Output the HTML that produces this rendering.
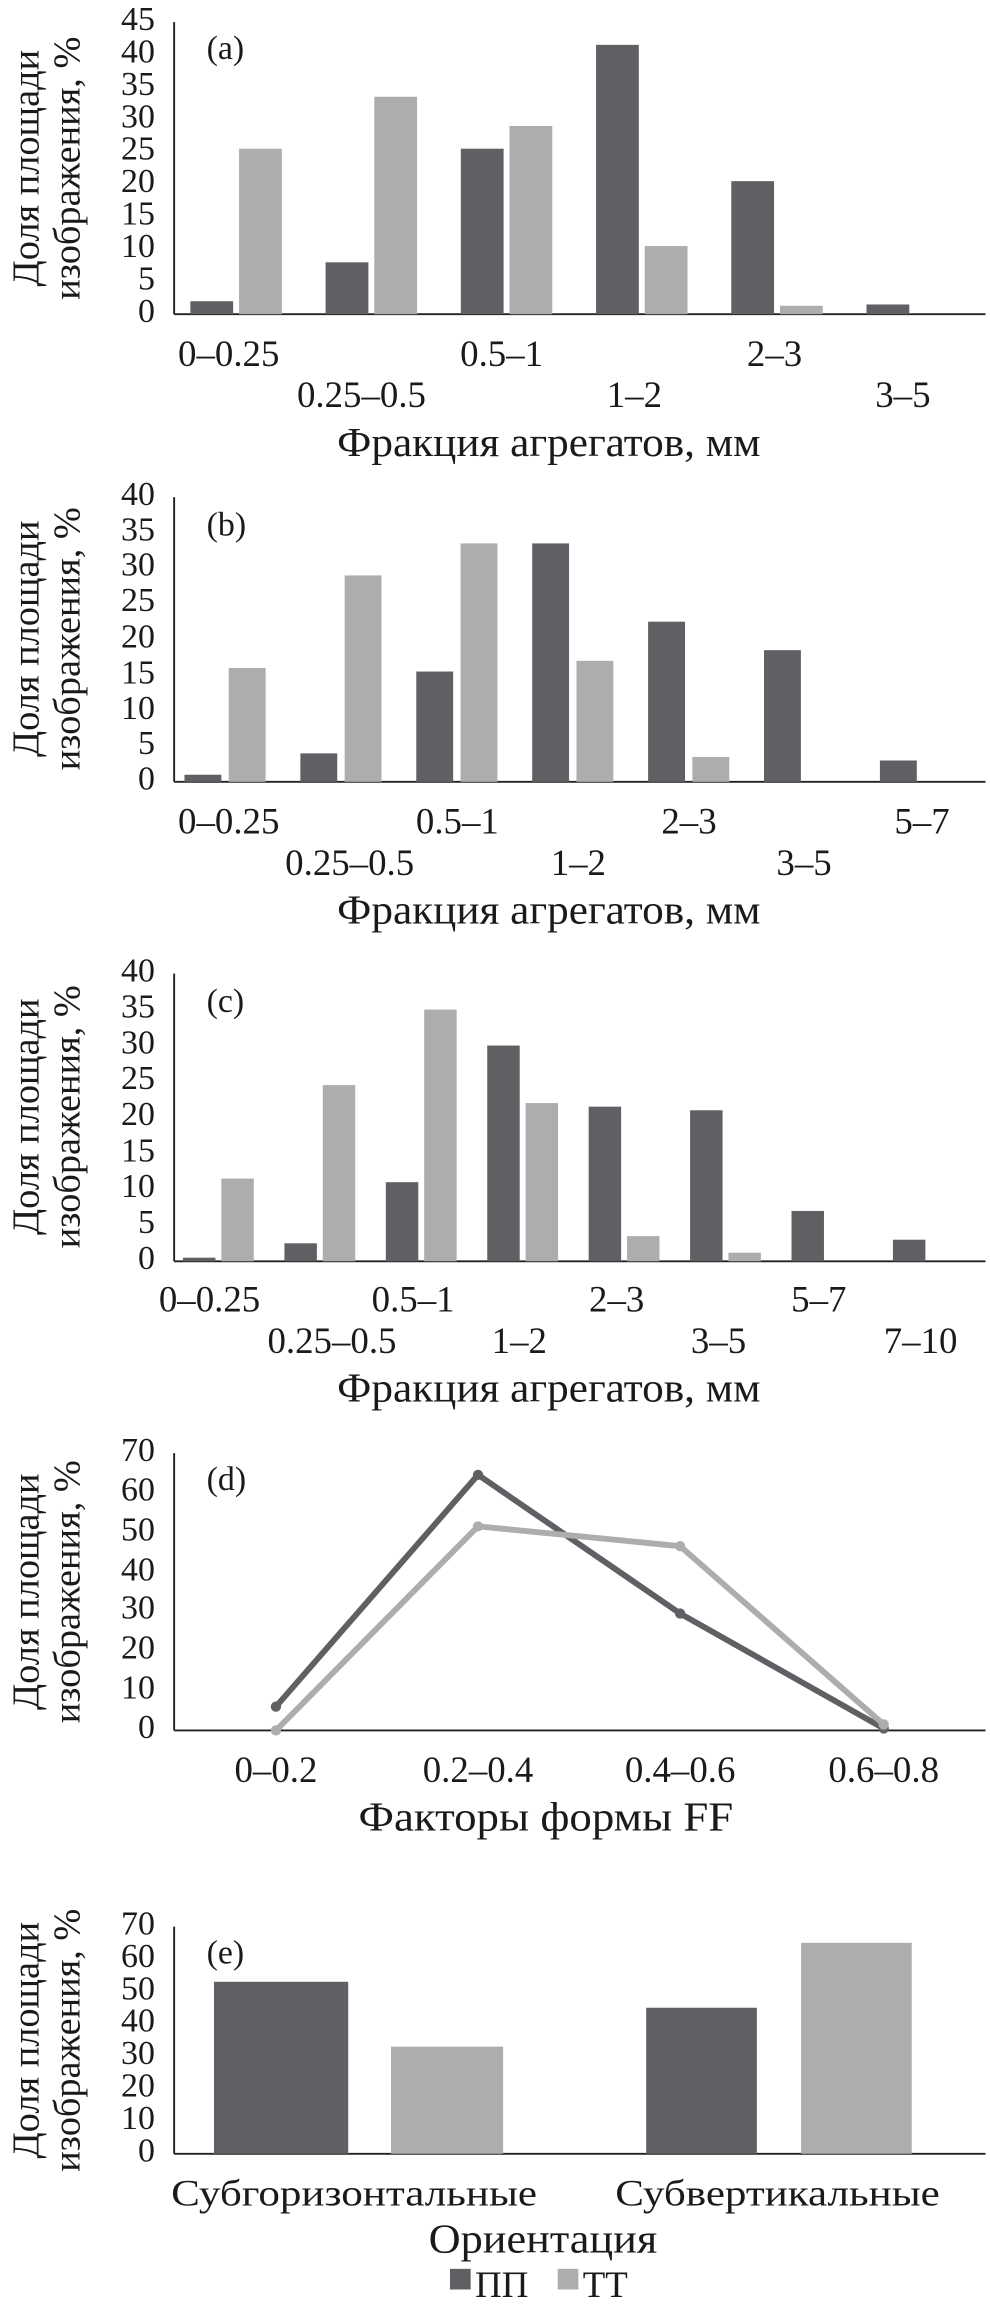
<!DOCTYPE html>
<html><head><meta charset="utf-8"><style>
html,body{margin:0;padding:0;background:#fff;}
svg{display:block;}
text{font-family:"Liberation Serif","DejaVu Serif",serif;fill:#1a1a1a;}
.t{font-size:23px;}
.xt{font-size:25px;}
.ax{font-size:28px;}
.yl{font-size:26px;}
</style></head><body>
<svg id="s" width="990" height="2319" viewBox="0 0 671 1572" xmlns="http://www.w3.org/2000/svg">
<g id="g"></g>
<g class="t" text-anchor="end" dominant-baseline="middle">
<text x="105" y="213">0</text><text x="105" y="191">5</text><text x="105" y="169">10</text><text x="105" y="147">15</text><text x="105" y="125">20</text><text x="105" y="103">25</text><text x="105" y="81">30</text><text x="105" y="59">35</text><text x="105" y="37">40</text><text x="105" y="15">45</text>
<text x="105" y="530">0</text><text x="105" y="506">5</text><text x="105" y="482">10</text><text x="105" y="458">15</text><text x="105" y="433.5">20</text><text x="105" y="409">25</text><text x="105" y="385">30</text><text x="105" y="361">35</text><text x="105" y="337">40</text>
<text x="105" y="855">0</text><text x="105" y="830.6">5</text><text x="105" y="806">10</text><text x="105" y="782">15</text><text x="105" y="757.5">20</text><text x="105" y="733">25</text><text x="105" y="709">30</text><text x="105" y="684.4">35</text><text x="105" y="660">40</text>
<text x="105" y="1173">0</text><text x="105" y="1146">10</text><text x="105" y="1119">20</text><text x="105" y="1092">30</text><text x="105" y="1066">40</text><text x="105" y="1039">50</text><text x="105" y="1012">60</text><text x="105" y="985">70</text>
<text x="105" y="1460">0</text><text x="105" y="1438">10</text><text x="105" y="1416">20</text><text x="105" y="1394">30</text><text x="105" y="1372">40</text><text x="105" y="1350">50</text><text x="105" y="1328">60</text><text x="105" y="1306">70</text>
</g>
<g class="t"><text x="140" y="40">(a)</text><text x="140" y="363">(b)</text><text x="140" y="686">(c)</text><text x="140" y="1010">(d)</text><text x="140" y="1331">(e)</text></g>
<g class="xt" text-anchor="middle">
<text x="155" y="248">0–0.25</text><text x="245" y="276">0.25–0.5</text><text x="340" y="248">0.5–1</text><text x="430" y="276">1–2</text><text x="525" y="248">2–3</text><text x="612" y="276">3–5</text>
<text x="155" y="565">0–0.25</text><text x="237" y="593">0.25–0.5</text><text x="310" y="565">0.5–1</text><text x="392" y="593">1–2</text><text x="467" y="565">2–3</text><text x="545" y="593">3–5</text><text x="625" y="565">5–7</text>
<text x="142" y="889">0–0.25</text><text x="225" y="917">0.25–0.5</text><text x="280" y="889">0.5–1</text><text x="352" y="917">1–2</text><text x="418" y="889">2–3</text><text x="487" y="917">3–5</text><text x="555" y="889">5–7</text><text x="624" y="917">7–10</text>
<text x="187" y="1208">0–0.2</text><text x="324" y="1208">0.2–0.4</text><text x="461" y="1208">0.4–0.6</text><text x="599" y="1208">0.6–0.8</text>
<text x="240" y="1495" textLength="248" lengthAdjust="spacingAndGlyphs">Субгоризонтальные</text><text x="527" y="1495" textLength="220" lengthAdjust="spacingAndGlyphs">Субвертикальные</text>
</g>
<g class="ax" text-anchor="middle">
<text x="372" y="309" textLength="287" lengthAdjust="spacingAndGlyphs">Фракция агрегатов, мм</text>
<text x="372" y="626" textLength="287" lengthAdjust="spacingAndGlyphs">Фракция агрегатов, мм</text>
<text x="372" y="950" textLength="287" lengthAdjust="spacingAndGlyphs">Фракция агрегатов, мм</text>
<text x="370" y="1241" textLength="254" lengthAdjust="spacingAndGlyphs">Факторы формы FF</text>
<text x="368" y="1527" textLength="155" lengthAdjust="spacingAndGlyphs">Ориентация</text>
</g>
<g class="yl" text-anchor="middle">
<text transform="translate(26,114) rotate(-90)">Доля площади</text><text transform="translate(54,114) rotate(-90)">изображения, %</text>
<text transform="translate(26,433) rotate(-90)">Доля площади</text><text transform="translate(54,433) rotate(-90)">изображения, %</text>
<text transform="translate(26,757) rotate(-90)">Доля площади</text><text transform="translate(54,757) rotate(-90)">изображения, %</text>
<text transform="translate(26,1079) rotate(-90)">Доля площади</text><text transform="translate(54,1079) rotate(-90)">изображения, %</text>
<text transform="translate(26,1383) rotate(-90)">Доля площади</text><text transform="translate(54,1383) rotate(-90)">изображения, %</text>
</g>
<rect x="305" y="1538" width="14" height="14" fill="#5f6063"/><text class="xt" x="322" y="1557">ПП</text>
<rect x="378" y="1538" width="14" height="14" fill="#acadaf"/><text class="xt" x="395" y="1557">ТТ</text>
</svg>
<script>
var D="#5f6063",L="#acadaf",g=document.getElementById("g"),NS="http://www.w3.org/2000/svg";
function el(n,a){var e=document.createElementNS(NS,n);for(var k in a)e.setAttribute(k,a[k]);g.appendChild(e);return e;}
function axes(top,bot){el("line",{x1:118,y1:top,x2:118,y2:bot,stroke:"#222","stroke-width":1.3});el("line",{x1:118,y1:bot,x2:668,y2:bot,stroke:"#222","stroke-width":1.3});}
function bars(bot,sc,n,dark,light,off,bw,gap){var cw=550/n;for(var i=0;i<n;i++){var x=118+off+cw*i;
 if(dark[i]>0)el("rect",{x:x,y:bot-dark[i]*sc,width:bw,height:dark[i]*sc,fill:D});
 if(light[i]>0)el("rect",{x:x+bw+gap,y:bot-light[i]*sc,width:bw,height:light[i]*sc,fill:L});}}
axes(15,213);bars(213,4.4,6,[2,8,25.5,41.5,20.5,1.5],[25.5,33.5,29,10.5,1.3,0],11,29,4);
axes(337,530);bars(530,4.825,7,[1,4,15.5,33.5,22.5,18.5,3],[16,29,33.5,17,3.5,0,0],7,25,5);
axes(660,855);bars(855,4.875,8,[0.5,2.5,11,30,21.5,21,7,3],[11.5,24.5,35,22,3.5,1.2,0,0],6,22,4);
axes(985,1173);
var sc=188/70,xs=[187,324,461,599];
[[D,[6,64.5,29.5,0.5]],[L,[0,51.5,46.5,1.5]]].forEach(function(s){var p=xs.map(function(x,i){return x+","+(1173-s[1][i]*sc)}).join(" ");
 el("polyline",{points:p,fill:"none",stroke:s[0],"stroke-width":4});
 xs.forEach(function(x,i){el("circle",{cx:x,cy:1173-s[1][i]*sc,r:3.5,fill:s[0]});});});
axes(1306,1460);
el("rect",{x:145,y:1460-53*2.2,width:91,height:53*2.2,fill:D});
el("rect",{x:265,y:1460-33*2.2,width:76,height:33*2.2,fill:L});
el("rect",{x:438,y:1460-45*2.2,width:75,height:45*2.2,fill:D});
el("rect",{x:543,y:1460-65*2.2,width:75,height:65*2.2,fill:L});
</script>
</body></html>
